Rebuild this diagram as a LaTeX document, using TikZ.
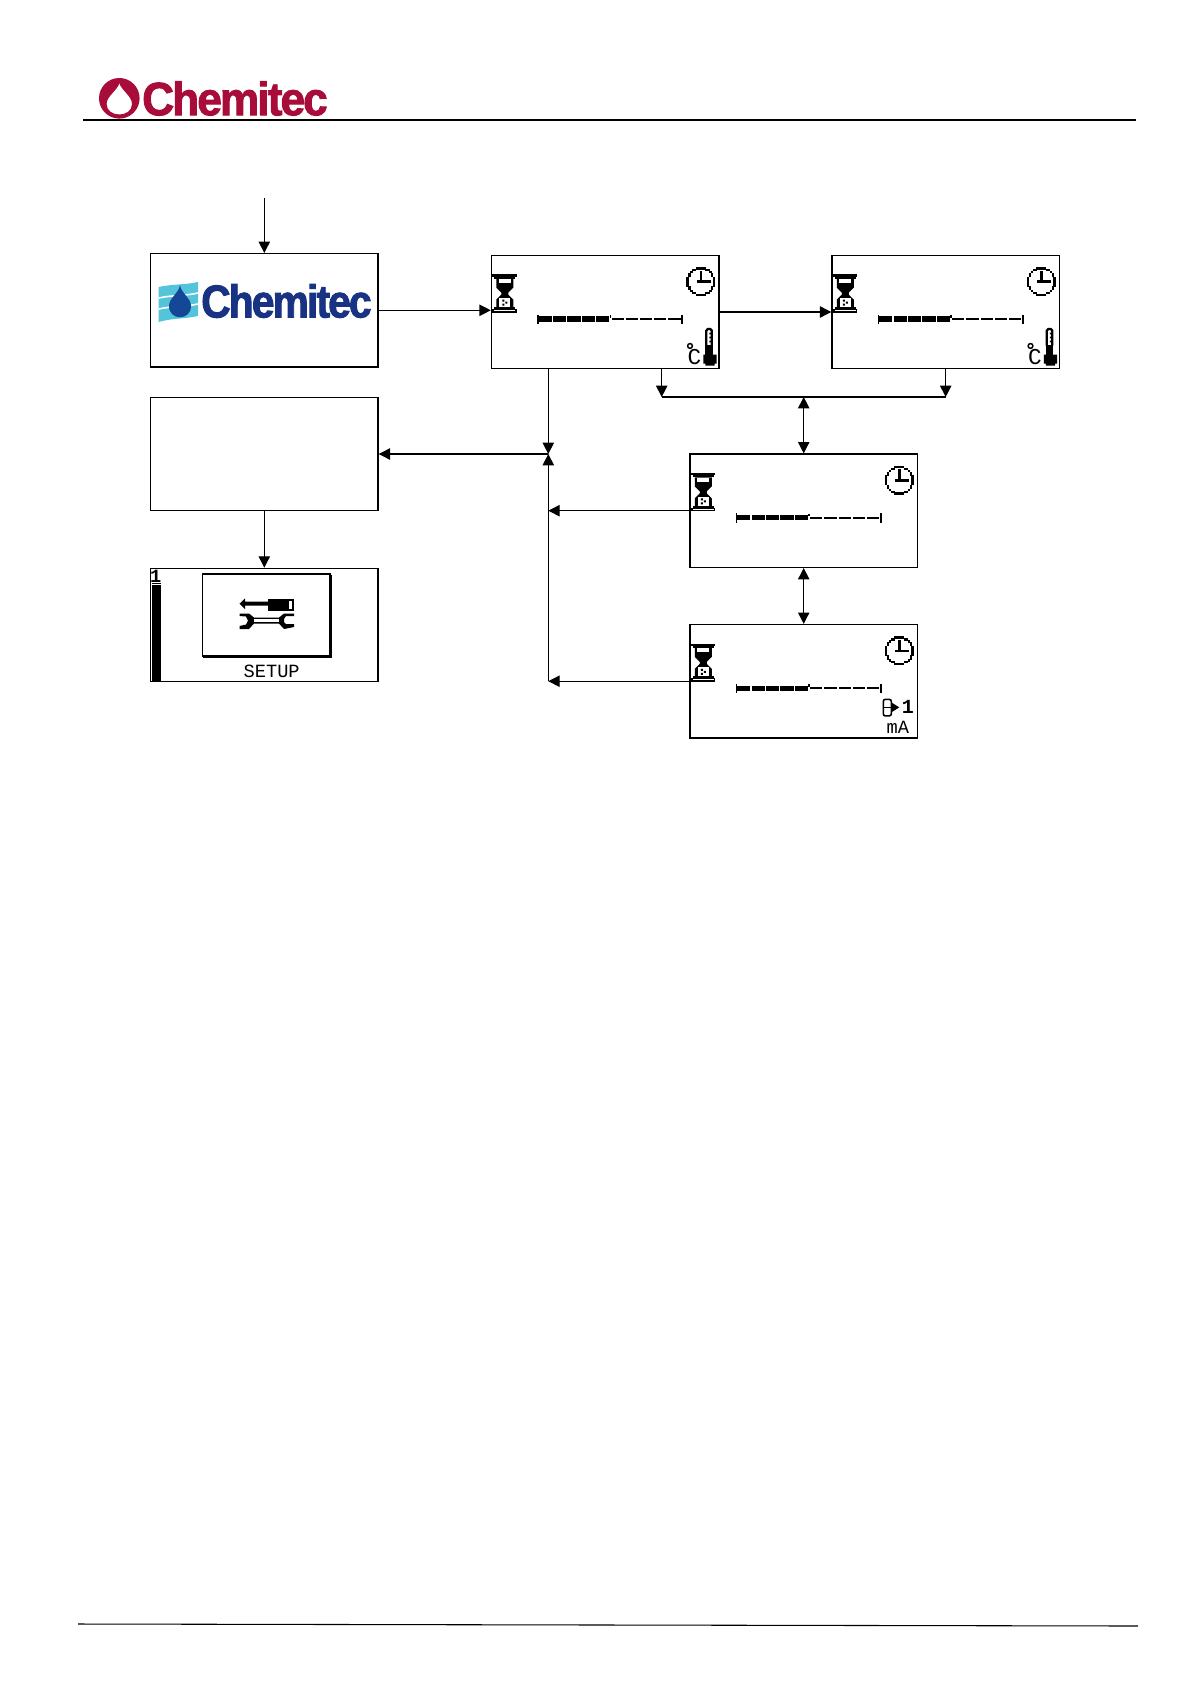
\documentclass[tikz,border=0pt]{standalone}
\usepackage{fontspec}
\usetikzlibrary{arrows.meta}
\setmainfont{Liberation Sans}
\newfontfamily\logoredfont[FakeBold=2,LetterSpace=-4,FakeStretch=0.945]{Liberation Sans Bold}
\newfontfamily\logobluefont[FakeBold=2,LetterSpace=-4,FakeStretch=0.885]{Liberation Sans Bold}
\newfontfamily\lcdfont{Liberation Mono}
\newfontfamily\lcdbold{Liberation Mono Bold}
\definecolor{chemred}{RGB}{168,12,56}
\definecolor{chemblue}{RGB}{24,50,132}
\definecolor{chemdrop}{RGB}{20,72,150}
\definecolor{chemwave}{RGB}{84,196,218}
\tikzset{
  screen/.style={draw=black,line width=1pt,fill=white,inner sep=0pt,
    minimum width=170.6pt,minimum height=85pt},
  conn/.style={draw=black,line width=0.85pt},
  arr/.style={conn,-{Triangle[length=8.5pt,width=8.5pt]}},
  dbl/.style={conn,{Triangle[length=8.5pt,width=8.5pt]}-{Triangle[length=8.5pt,width=8.5pt]}},
  lcdtext/.style={inner sep=0pt,text=black},
  hourglass/.pic={
    \fill (1.5,19.7) rectangle (26,22);
    \fill (3.5,22) rectangle (24.5,24);
    \fill (5.5,24) -- (22.5,24) -- (22.5,33) -- (17.5,38) -- (17.5,40) -- (22.5,45) -- (22.5,54) -- (5.5,54) -- (5.5,45) -- (10.5,40) -- (10.5,38) -- (5.5,33) -- cycle;
    \fill[white] (8,24.5) rectangle (20,28.5);
    \fill[white] (8.5,43.5) rectangle (19.5,52.5);
    \fill (11.5,45) rectangle (13.5,47) (14.5,47) rectangle (16.5,49) (11.5,49) rectangle (13.5,51);
    \fill (3.5,52.5) rectangle (24.5,54.5);
    \fill (1.5,54.5) rectangle (26,58);
    \fill[white] (3.5,55.5) rectangle (24.5,56.5);
  },
  clock/.pic={
    \foreach \a/\b in {7/0,7/1,7/2,6/3,6/4,5/5,4/6,3/6,2/7,1/7,0/7}{
      \fill (210+\a*1.9-1.2,27+\b*1.9-1.2) rectangle ++(2.4,2.4);
      \fill (210-\a*1.9-1.2,27+\b*1.9-1.2) rectangle ++(2.4,2.4);
      \fill (210+\a*1.9-1.2,27-\b*1.9-1.2) rectangle ++(2.4,2.4);
      \fill (210-\a*1.9-1.2,27-\b*1.9-1.2) rectangle ++(2.4,2.4);
    }
    \fill (208.8,16) rectangle (211.2,28.2);
    \fill (206,25.8) rectangle (220,28.2);
  },
  progressbar/.pic={
    \fill (46.5,60) rectangle (47.8,69.5);
    \foreach \i in {0,...,4}{\fill (47.8+\i*14.4,61.7) rectangle ++(13.2,5.3);}
    \fill (118.8,60.5) rectangle (120.5,63);
    \foreach \i in {0,...,4}{\fill (120.8+\i*14.2,63.2) rectangle ++(12.2,2);}
    \fill (190.6,60) rectangle (192.2,69.5);
  },
  thermo/.pic={
    \draw[line width=1.7pt] (215.5,91) -- (215.5,76) -- (217,74.3) -- (219.5,74.3) -- (221,76) -- (221,91);
    \fill (218.5,78) rectangle (220.5,79.7) (218.5,82) rectangle (220.5,83.7) (218.5,86) rectangle (220.5,87.7);
    \fill (214.5,90) rectangle (222,100);
    \fill (212.5,100) rectangle (225.7,109) (214.5,109) rectangle (223.7,111);
    \draw[line width=1.1pt] (199.2,91.3) circle (2.4);
  }
}
\begin{document}
\begin{tikzpicture}[x=0.75pt,y=-0.75pt]
\useasboundingbox (0,0) rectangle (1190,1684);
\fill[white] (0,0) rectangle (1190,1684);

% page header
\fill[chemred,even odd rule] (119.3,98.3) circle (20.3)
  (119.3,83) .. controls (121,90) and (132,96) .. (132,104) .. controls (132,118) and (106.6,118) .. (106.6,104) .. controls (106.6,96) and (118,90) .. (119.3,83) -- cycle;
\node[anchor=west,inner sep=0pt,text=chemred] (headlogo) at (142,98.5) {\fontsize{35}{35}\logoredfont Chemitec};
\coordinate (hl) at (83,120);
\coordinate (hr) at (1136,120);
\draw[line width=1pt] (hl) -- (hr);
\coordinate (fl) at (78,1624);
\coordinate (fr) at (1138,1626);
\draw[line width=0.8pt] (fl) -- (fr);

% screens
\node[screen] (A) at (264.3,310.3) {};
\node[screen] (B) at (605.2,312) {};
\node[screen] (C) at (945.7,312) {};
\node[screen] (L) at (264.3,454) {};
\node[screen] (S) at (264.3,625) {};
\node[screen] (D) at (803.7,510.7) {};
\node[screen] (E) at (803.7,681.2) {};

% splash logo
\fill[chemwave] (158.7,287) .. controls (172,284) and (185,285) .. (198,282) -- (198,316) .. controls (185,319) and (172,318) .. (158.7,322) -- cycle;
\draw[white,line width=1.2pt] (158.7,298) .. controls (172,295) and (185,296) .. (198,293);
\draw[white,line width=1.2pt] (158.7,309) .. controls (172,306) and (185,307) .. (198,304);
\fill[chemdrop] (180,285) .. controls (181,293) and (191,298) .. (191,306) .. controls (191,321) and (169,321) .. (169,306) .. controls (169,298) and (179,293) .. (180,285) -- cycle;
\node[anchor=west,inner sep=0pt,text=chemblue] (bluelogo) at (201,301) {\fontsize{34.5}{35}\logobluefont Chemitec};

% LCD content
\pic at (B.north west) {hourglass};
\pic at (B.north west) {clock};
\pic at (B.north west) {progressbar};
\pic at (B.north west) {thermo};
\node[lcdtext,font=\fontsize{17}{17}\selectfont\lcdfont] (Bc) at ([shift={(203.5,102.5)}]B.north west) {C};
\pic at (C.north west) {hourglass};
\pic at (C.north west) {clock};
\pic at (C.north west) {progressbar};
\pic at (C.north west) {thermo};
\node[lcdtext,font=\fontsize{17}{17}\selectfont\lcdfont] (Cc) at ([shift={(203.5,102.5)}]C.north west) {C};
\pic at (D.north west) {hourglass};
\pic at (D.north west) {clock};
\pic at (D.north west) {progressbar};
\pic at (E.north west) {hourglass};
\pic at (E.north west) {clock};
\pic at (E.north west) {progressbar};
\draw[line width=1.2pt,rounded corners=1.5pt] ([shift={(194,75.5)}]E.north west) rectangle ([shift={(202,92)}]E.north west);
\draw[line width=1.2pt] ([shift={(194,83.5)}]E.north west) -- ([shift={(202,83.5)}]E.north west);
\fill ([shift={(202,78.5)}]E.north west) -- ([shift={(210,83.5)}]E.north west) -- ([shift={(202,88.5)}]E.north west) -- cycle;
\node[lcdtext,font=\fontsize{15}{15}\selectfont\lcdbold] (Eone) at ([shift={(218.5,83)}]E.north west) {1};
\node[lcdtext,font=\fontsize{14}{14}\selectfont\lcdfont] (Ema) at ([shift={(208.5,103.5)}]E.north west) {mA};

% setup screen
\fill (152,585) rectangle (160.7,680.5);
\fill (151.5,582.7) rectangle (160.7,584);
\node[lcdtext,font=\fontsize{14}{14}\selectfont\lcdbold] (Sn) at (155.6,576.5) {1};
\draw[line width=0.9pt] (202.3,574) rectangle (330,656);
\draw[line width=1.5pt] (331,574.5) -- (331,657) -- (202.8,657);
\fill (239.5,603.7) -- (245,598.5) -- (245,601.7) -- (268,601.7) -- (268,605.7) -- (245,605.7) -- (245,609) -- cycle;
\fill (268,598.5) rectangle (293.5,610.8);
\fill[white] (288.5,601) rectangle (291.5,608.5);
\fill (239.5,613.5) -- (249,613.5) -- (254,617.5) -- (279,617.5) -- (284,613.5) -- (294,613.5) -- (294,616) -- (286,616) -- (284,619) -- (284,622) -- (286,624) -- (294,624) -- (294,627) -- (284,629) -- (279,623.5) -- (254,623.5) -- (249,629) -- (239.5,629) -- (239.5,626) -- (246,624.5) -- (248,620.5) -- (246,616.5) -- (239.5,616) -- cycle;
\fill[white] (254,619.3) rectangle (279,621.7);
\node[lcdtext,font=\fontsize{14}{14}\selectfont\lcdfont] (Stxt) at (271.7,671.5) {SETUP};

% connectors
\coordinate (start) at (264.3,198);
\coordinate (J) at (548.3,454);
\coordinate (K) at (661.7,397);
\coordinate (M) at (945.7,397);
\coordinate (Q) at (803.7,397);
\draw[arr] (start) -- (A.north);
\draw[arr] (A.east) -- (A.east -| B.west);
\draw[arr] (B.east) -- (C.west);
\draw[arr] (J |- B.south) -- (J);
\draw[arr] (J) -- (L.east);
\draw[arr] (J |- E.west) -- (J);
\draw[arr] (D.west) -- (D.west -| J);
\draw[arr] (E.west) -- (E.west -| J);
\draw[arr] (L.south) -- (S.north);
\draw[arr] (K |- B.south) -- (K);
\draw[arr] (C.south) -- (M);
\draw[conn] (K) -- (M);
\draw[dbl] (Q) -- (D.north);
\draw[dbl] (D.south) -- (E.north);
\end{tikzpicture}
\end{document}
